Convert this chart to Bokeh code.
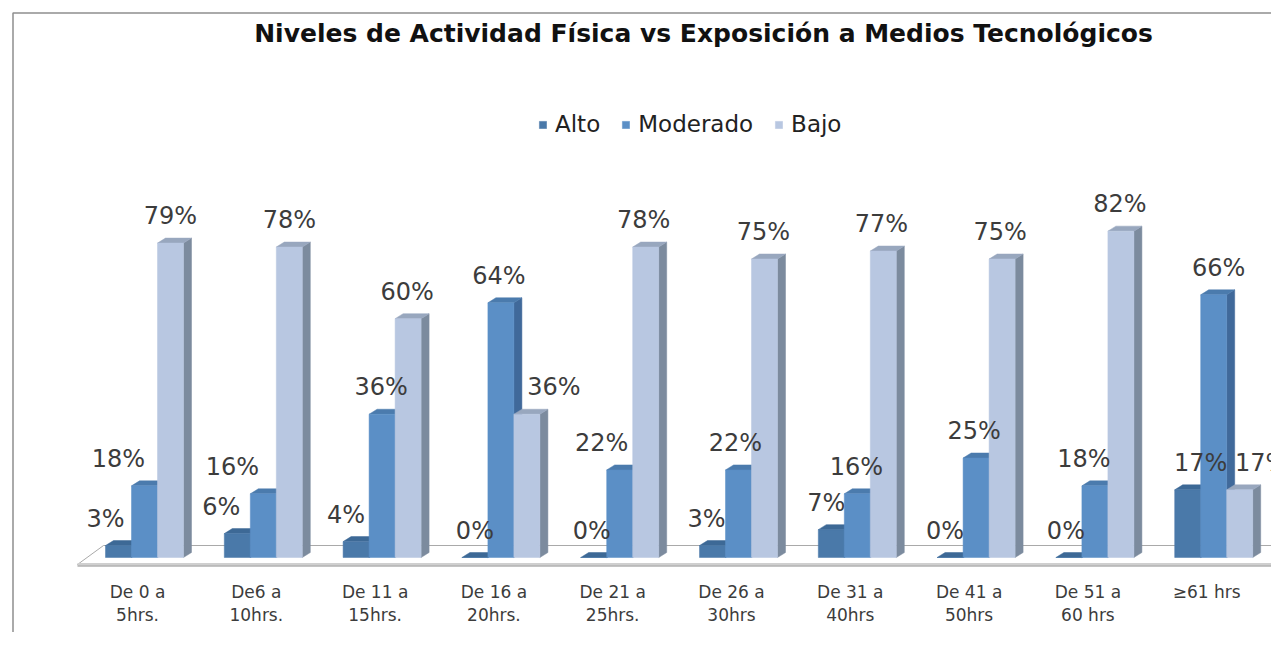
from bokeh.plotting import figure
from bokeh.models import Range1d, Label, Legend, LegendItem
from bokeh.core.properties import value
from bokeh.embed import file_html
from bokeh.resources import INLINE

# ---------------- data ----------------
categories = ["De 0 a\n5hrs.", "De6 a\n10hrs.", "De 11 a\n15hrs.", "De 16 a\n20hrs.",
              "De 21 a\n25hrs.", "De 26 a\n30hrs", "De 31 a\n40hrs", "De 41 a\n50hrs",
              "De 51 a\n60 hrs", "≥61 hrs"]
series_names = ["Alto", "Moderado", "Bajo"]
alto = [3, 6, 4, 0, 0, 3, 7, 0, 0, 17]
moderado = [18, 16, 36, 64, 22, 22, 16, 25, 18, 66]
bajo = [79, 78, 60, 36, 78, 75, 77, 75, 82, 17]
title_text = "Niveles de Actividad Física vs Exposición a Medios Tecnológicos"

# ---------------- layout / style ----------------
W, H = 1271, 632
PX_X = 118.8          # px per category
PX_Y = 3.98           # px per percent
X0_PX = 144           # px of first category centre
Y0_PX = 557           # px (from top) of 0 %
BAR_W = 26 / PX_X
DX = 8 / PX_X         # depth offset
DY = 5 / PX_Y
LABEL_UP = 27 / PX_Y

# per-label horizontal nudges (px)
label_nudge = {
    "Alto":     [-13, -16, -10, 0, -2, -6, -5, -5, -3, 13],
    "Moderado": [-26, -31, -1, -2, -18, -3, -1, -2, -11, 5],
    "Bajo":     [0, 0, -1, 27, -2, -1, -2, -2, -1, 22],
}
colors = {
    "Alto":     dict(front="#4a79a9", side="#395f88", top="#3d6996"),
    "Moderado": dict(front="#5b8fc6", side="#40699a", top="#4b7bad"),
    "Bajo":     dict(front="#b8c7e1", side="#7c8b9e", top="#98a7be"),
}
values = {"Alto": alto, "Moderado": moderado, "Bajo": bajo}
TXT = "#3c3c3c"

x_start = -X0_PX / PX_X
x_end = (W - X0_PX) / PX_X
y_start = (Y0_PX - H) / PX_Y
y_end = Y0_PX / PX_Y

p = figure(width=W, height=H, output_backend="svg", toolbar_location=None,
           x_range=Range1d(x_start, x_end), y_range=Range1d(y_start, y_end),
           min_border=0, background_fill_color="white", border_fill_color="white")
p.axis.visible = False
p.grid.visible = False
p.outline_line_color = None

n = len(categories)

# border of the chart area (left and top edges)
bx = x_start + 12.5 / PX_X
by = y_end - 12.5 / PX_Y
p.line([bx, bx, x_end + 1], [y_start - 5, by, by], line_color="#8e8e8e", line_width=1.5)

# floor
half = 1.5 * BAR_W
fl_front = -7 / PX_Y
fl_back = 12 / PX_Y
fl_dx = 26 / PX_X
left_front = -half - 28 / PX_X
right_front = (n - 1) + half + 52 / PX_X
p.patch([left_front, right_front, right_front + fl_dx, left_front + fl_dx],
        [fl_front, fl_front, fl_back, fl_back],
        fill_color="white", line_color="#a9a9a9", line_width=1)
p.line([left_front, right_front], [fl_front, fl_front], line_color="#cfcfcf", line_width=3)
p.line([left_front, right_front], [fl_front - 1.6 / PX_Y, fl_front - 1.6 / PX_Y],
       line_color="#9c9c9c", line_width=1)

legend_items = []
for k, name in enumerate(series_names):
    vals = values[name]
    off = (k - 1) * BAR_W
    x0 = [i + off - BAR_W / 2 for i in range(n)]
    x1 = [i + off + BAR_W / 2 for i in range(n)]
    c = colors[name]
    side_xs = [[a, a + DX, a + DX, a] for a in x1]
    side_ys = [[0, DY, v + DY, v] for v in vals]
    p.patches(side_xs, side_ys, fill_color=c["side"], line_color=c["side"], line_width=0.5)
    top_xs = [[a, b, b + DX, a + DX] for a, b in zip(x0, x1)]
    top_ys = [[v, v, v + DY, v + DY] for v in vals]
    p.patches(top_xs, top_ys, fill_color=c["top"], line_color=c["top"], line_width=0.5)
    r = p.quad(left=x0, right=x1, bottom=[0] * n, top=vals,
               fill_color=c["front"], line_color=c["front"], line_width=0.5)
    legend_items.append(LegendItem(label=name, renderers=[r]))

# data labels
for k, name in enumerate(series_names):
    vals = values[name]
    off = (k - 1) * BAR_W
    lx = [i + off + d / PX_X for i, d in zip(range(n), label_nudge[name])]
    ly = [v + LABEL_UP for v in vals]
    p.text(lx, ly, text=[f"{v}%" for v in vals], text_align="center", text_baseline="middle",
           text_font=value("DejaVu Sans"), text_font_size="24px", text_color=TXT)

# category labels
p.text([i - 7 / PX_X for i in range(n)], [-24 / PX_Y] * n, text=categories,
       text_align="center", text_baseline="top", text_line_height=1.15,
       text_font=value("DejaVu Sans"), text_font_size="17px", text_color=TXT)

# title
p.add_layout(Label(x=703, y=H - 33, x_units="screen", y_units="screen", text=title_text,
                   text_align="center", text_baseline="middle", text_font="DejaVu Sans",
                   text_font_style="bold", text_font_size="25px", text_color="#111111"))

legend = Legend(items=legend_items, orientation="horizontal", location=(538, 495),
                glyph_width=9, glyph_height=9, label_standoff=8, spacing=21, padding=0,
                margin=0, border_line_color=None, background_fill_alpha=0,
                label_text_font="DejaVu Sans", label_text_font_size="23px",
                label_text_color="#222222")
p.add_layout(legend)

open("out.html", "w").write(file_html(p, INLINE))
